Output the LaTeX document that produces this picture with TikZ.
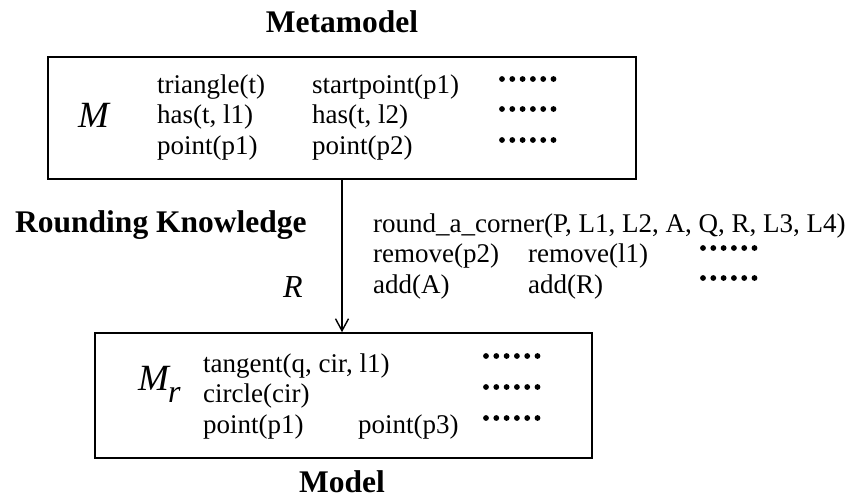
\documentclass[tikz,border=0pt]{standalone}
\usepackage{fontspec}
\setmainfont{Liberation Serif}
\usetikzlibrary{arrows.meta}
\begin{document}
\begin{tikzpicture}[x=1pt,y=-1pt,
  txt/.style={anchor=base west, inner sep=0pt, font=\fontsize{27}{30}\selectfont},
  ttl/.style={anchor=base, inner sep=0pt, font=\fontsize{31.5}{36}\selectfont\bfseries},
  sym/.style={anchor=base west, inner sep=0pt, font=\fontsize{37}{40}\selectfont\itshape},
  frame/.style={draw, line width=1.6pt, inner sep=0pt},
  dotrow/.pic={\foreach \i in {0,...,5} \fill (\i*10.3,0) circle (2.9pt);}
]
\useasboundingbox (0,0) rectangle (850,498);

% the two boxes
\node[frame, minimum width=588pt, minimum height=122pt] (meta) at (342,118) {};
\node[frame, minimum width=497pt, minimum height=125pt] (model) at (343.5,395.5) {};

% titles
\node[ttl] (metaT) at (342,32) {Metamodel};
\node[ttl] (modelT) at (342,492) {Model};
\node[ttl, anchor=base west] (rk) at (15,232) {Rounding Knowledge};

% symbols
\node[sym] (M) at (78,127) {M};
\node[sym, font=\fontsize{32}{36}\selectfont\itshape] (R) at (283,297) {R};
\node[sym] (Mr) at (138,390) {M\kern-1pt\raisebox{-12pt}{\fontsize{32}{36}\selectfont r}};

% metamodel facts
\node[txt] (a1) at (157,93) {triangle(t)};
\node[txt] (a2) at (157,123) {has(t, l1)};
\node[txt] (a3) at (157,154) {point(p1)};
\node[txt] (b1) at (312,93) {startpoint(p1)};
\node[txt] (b2) at (312,123) {has(t, l2)};
\node[txt] (b3) at (312,154) {point(p2)};
\pic at (502,79) {dotrow};
\pic at (502,109) {dotrow};
\pic at (502,140) {dotrow};

% rounding operations
\node[txt] (c1) at (373,232) {round\_a\_corner(P, L1, L2, A, Q, R, L3, L4)};
\node[txt] (c2) at (373,262) {remove(p2)};
\node[txt] (c3) at (373,293) {add(A)};
\node[txt] (d2) at (528,262) {remove(l1)};
\node[txt] (d3) at (528,293) {add(R)};
\pic at (703,248) {dotrow};
\pic at (703,278) {dotrow};

% model facts
\node[txt] (e1) at (203,372) {tangent(q, cir, l1)};
\node[txt] (e2) at (203,402) {circle(cir)};
\node[txt] (e3) at (203,433) {point(p1)};
\node[txt] (f3) at (358,433) {point(p3)};
\pic at (486,356) {dotrow};
\pic at (486,387) {dotrow};
\pic at (486,418) {dotrow};

% transformation arrow
\draw[line width=1.4pt, -{Straight Barb[length=12pt,width=13pt,line width=1.4pt]}]
  (meta.south) -- (meta.south |- model.north);
\end{tikzpicture}
\end{document}
